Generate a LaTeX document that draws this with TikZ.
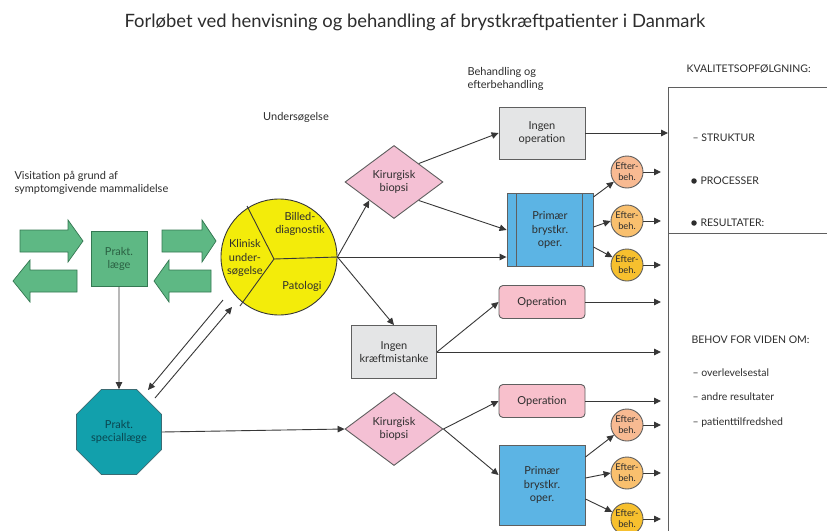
\documentclass[tikz,border=0pt]{standalone}
\usepackage{fontspec}
\setmainfont{Lato}
\usetikzlibrary{arrows.meta,shapes.geometric}
\definecolor{grn}{RGB}{94,184,132}
\definecolor{grnd}{RGB}{52,120,82}
\definecolor{yel}{RGB}{243,236,10}
\definecolor{pnk}{RGB}{244,192,212}
\definecolor{pnkop}{RGB}{248,192,204}
\definecolor{gry}{RGB}{228,229,230}
\definecolor{blu}{RGB}{92,180,228}
\definecolor{teal}{RGB}{18,160,172}
\definecolor{tealt}{RGB}{10,70,80}
\definecolor{ef1}{RGB}{248,186,146}
\definecolor{ef2}{RGB}{249,192,110}
\definecolor{ef3}{RGB}{247,192,46}
\definecolor{ink}{RGB}{45,45,45}
\definecolor{lin}{RGB}{55,55,55}
\begin{document}
\begin{tikzpicture}[x=1pt,y=-1pt,
  every node/.style={font=\fontsize{11}{13.5}\selectfont, text=ink, align=center},
  con/.style={draw=lin, line width=0.9pt, -{Triangle[length=7pt,width=6.5pt]}},
  plain/.style={draw=lin, line width=0.9pt},
  garrow/.style={fill=grn, draw=grnd, line width=0.7pt},
  graybox/.style={rectangle, fill=gry, draw=lin!80, line width=0.9pt, minimum width=86pt, inner sep=1pt},
  opbox/.style={rectangle, rounded corners=4pt, fill=pnkop, draw=lin!80, line width=0.9pt, minimum width=86pt, minimum height=33pt},
  primbox/.style={rectangle, fill=blu, draw=lin!80, line width=0.9pt, minimum width=86pt},
  dia/.style={diamond, fill=pnk, draw=lin!80, line width=0.9pt, minimum width=98pt, minimum height=73pt, inner sep=0pt, aspect=1.34},
  efter/.style={circle, draw=lin!80, line width=0.9pt, minimum size=32pt, inner sep=0pt, font=\fontsize{9.3}{11}\selectfont},
  lbl/.style={anchor=west, align=left},
  rlbl/.style={anchor=west, align=left, font=\fontsize{10.5}{12}\selectfont},
  dot/.style={circle, fill=ink, inner sep=0pt, minimum size=5.5pt}
]
\useasboundingbox (0,0) rectangle (827,530);
\fill[white] (0,0) rectangle (827,530);

% title and headings
\node (title) at (415,22) {\fontsize{18.4}{21}\selectfont Forløbet ved henvisning og behandling af brystkræftpatienter i Danmark};
\node[lbl] (vis) at (11,183) {Visitation på grund af\\symptomgivende mammalidelse};
\node (und) at (296,117) {Undersøgelse};
\node[lbl] (beh) at (464,79) {Behandling og\\efterbehandling};
\node[rlbl] (kval) at (683,69) {KVALITETSOPFØLGNING:};

% green arrows
\draw[garrow] (20,230) -- (68,230) -- (68,220) -- (83,241) -- (68,262) -- (68,252) -- (20,252) -- cycle;
\draw[garrow] (77,270) -- (30,270) -- (30,260) -- (13,281) -- (30,302) -- (30,292) -- (77,292) -- cycle;
\draw[garrow] (162,230) -- (202,230) -- (202,220) -- (216,241) -- (202,262) -- (202,252) -- (162,252) -- cycle;
\draw[garrow] (211,270) -- (169,270) -- (169,260) -- (154,281) -- (169,302) -- (169,292) -- (211,292) -- cycle;

% Prakt. laege
\node[rectangle, fill=grn, draw=grnd, line width=0.8pt, minimum width=56pt, minimum height=55pt, text=grnd!80!black] (lae) at (119,259) {Prakt.\\læge};

% circle
\node[circle, fill=yel, draw=lin, line width=0.9pt, minimum size=116pt, inner sep=0pt] (circ) at (279,257) {};
\coordinate (cc) at (274,259);
\draw[plain] (cc) -- (circ.east);
\draw[plain] (cc) -- (247,206);
\draw[plain] (cc) -- (240,306);
\node (klin) at (245,258) {Klinisk\\under-\\søgelse};
\node (bill) at (300,224) {Billed-\\diagnostik};
\node (pat) at (302,286) {Patologi};

% octagon
\node[regular polygon, regular polygon sides=8, minimum size=92pt, fill=teal, draw=tealt!80, line width=0.8pt, inner sep=0pt, text=tealt] (spec) at (119,432) {Prakt.\\speciallæge};

% diamonds
\node[dia] (d1) at (394,182) {Kirurgisk\\biopsi};
\node[dia] (d2) at (394,429) {Kirurgisk\\biopsi};

% boxes
\node[graybox, minimum height=52pt] (ingop) at (542,133) {Ingen\\operation};
\node[primbox, minimum height=73pt] (prim1) at (550,230) {Primær\\brystkr.\\oper.};
\draw[lin!80, line width=0.9pt] ([xshift=10pt]prim1.north west) -- ([xshift=10pt]prim1.south west);
\draw[lin!80, line width=0.9pt] ([xshift=-11pt]prim1.north east) -- ([xshift=-11pt]prim1.south east);
\node[graybox, minimum width=85pt, minimum height=53pt] (ikm) at (394,352) {Ingen\\kræftmistanke};
\node[opbox] (op1) at (542,302) {Operation};
\node[opbox] (op2) at (542,401) {Operation};
\node[primbox, minimum height=80pt] (prim2) at (542,485) {Primær\\brystkr.\\oper.};

% efter circles
\node[efter, fill=ef1] (e1) at (627,172) {Efter-\\beh.};
\node[efter, fill=ef2] (e2) at (627,221) {Efter-\\beh.};
\node[efter, fill=ef3] (e3) at (627,265) {Efter-\\beh.};
\node[efter, fill=ef1] (e4) at (627,425) {Efter-\\beh.};
\node[efter, fill=ef2] (e5) at (627,473) {Efter-\\beh.};
\node[efter, fill=ef3] (e6) at (627,519) {Efter-\\beh.};

% right panel
\coordinate (pnw) at (668,87);
\coordinate (pdiv) at (668,233);
\coordinate (xr) at (661,0);
\draw[draw=lin!80, line width=1pt] (830,87) -- (pnw) -- (668,535);
\draw[draw=lin!80, line width=1pt] (pdiv) -- (830,233);
\node[rlbl] (s1) at (689,138) {– STRUKTUR};
\node[dot] (d2a) at (694,181) {};
\node[rlbl] (s2) at (697,181) {PROCESSER};
\node[dot] (d3a) at (694,223) {};
\node[rlbl] (s3) at (697,223) {RESULTATER:};
\node[rlbl] (b0) at (688,340) {BEHOV FOR VIDEN OM:};
\node[rlbl] (b1) at (689,373) {– overlevelsestal};
\node[rlbl] (b2) at (689,397) {– andre resultater};
\node[rlbl] (b3) at (689,423) {– patienttilfredshed};

% connectors
\draw[con] (lae.south) -- (spec.north);
\draw[con] (spec.east) -- (d2.west);
\coordinate (dA1) at (223,300);
\coordinate (dA2) at (148,390);
\coordinate (dB1) at (155,398);
\coordinate (dB2) at (232,307);
\draw[con] (dA1) -- (dA2);
\draw[con] (dB1) -- (dB2);

\draw[con] (circ.east) -- (d1.south west);
\draw[con] (circ.east) -- (circ.east -| prim1.west);
\draw[con] (circ.east) -- (ikm.north);

\draw[con] (d1.north east) -- (ingop.west);
\draw[con] (d1.south east) -- (prim1.west);
\draw[con] (ingop.east) -- (ingop.east -| pnw);

\draw[con] ([yshift=33pt]prim1.east) -- (e1);
\draw[con] ([yshift=3pt]prim1.east) -- (e2.west);
\draw[con] ([yshift=-17pt]prim1.east) -- (e3);

\draw[con] (ikm.east) -- (op1.west);
\draw[con] (ikm.east) -- (ikm.east -| xr);
\draw[con] (op1.east) -- (op1.east -| xr);
\draw[con] (op2.east) -- (op2.east -| xr);

\draw[con] (d2.east) -- (op2.west);
\draw[con] (d2.east) -- ([yshift=10pt]prim2.west);

\draw[con] ([yshift=28pt]prim2.east) -- (e4);
\draw[con] ([yshift=7pt]prim2.east) -- (e5.west);
\draw[con] ([yshift=-14pt]prim2.east) -- (e6);

\foreach \e in {e1,e2,e3,e4,e5,e6}
  \draw[con] (\e.east) -- (\e.east -| xr);
\end{tikzpicture}
\end{document}
